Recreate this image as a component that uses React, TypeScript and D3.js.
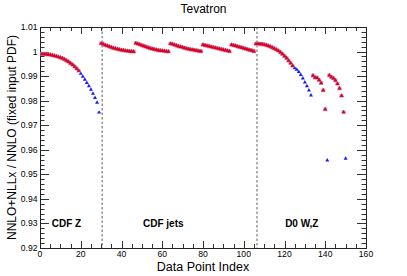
import React, { useEffect, useRef } from 'react';
import * as d3 from 'd3';

// ratio per data point
const cdfZ = [
  0.9990, 0.9990, 0.9989, 0.9988, 0.9987, 0.9985, 0.9983, 0.9981, 0.9978, 0.9975,
  0.9972, 0.9968, 0.9963, 0.9958, 0.9952, 0.9946, 0.9939, 0.9931, 0.9922, 0.9910,
  0.9898, 0.9886, 0.9873, 0.9859, 0.9845, 0.9829, 0.9812, 0.9792, 0.9752,
];
const cdfJets = [
  // bin 1
  1.0033, 1.0030, 1.0026, 1.0023, 1.0020, 1.0017, 1.0014, 1.0012, 1.0010, 1.0008,
  1.0006, 1.0005, 1.0003, 1.0002, 1.0001, 1.0000, 1.0000,
  // bin 2
  1.0034, 1.0031, 1.0028, 1.0025, 1.0022, 1.0019, 1.0016, 1.0013, 1.0011, 1.0009,
  1.0007, 1.0005, 1.0004, 1.0003, 1.0002, 1.0001, 1.0000,
  // bin 3
  1.0032, 1.0030, 1.0027, 1.0024, 1.0021, 1.0019, 1.0017, 1.0014, 1.0012, 1.0010,
  1.0008, 1.0007, 1.0005, 1.0004, 1.0002, 1.0001,
  // bin 4
  1.0027, 1.0025, 1.0023, 1.0021, 1.0019, 1.0017, 1.0015, 1.0013, 1.0011, 1.0009,
  1.0007, 1.0005, 1.0003, 1.0001,
  // bin 5
  1.0027, 1.0025, 1.0023, 1.0020, 1.0018, 1.0016, 1.0013, 1.0011, 1.0008, 1.0006,
  1.0004, 1.0001,
];
const d0WZ = [
  1.0031, 1.0031, 1.0030, 1.0030, 1.0028, 1.0026, 1.0023, 1.0020, 1.0016, 1.0012,
  1.0008, 1.0003, 0.9997, 0.9990, 0.9982, 0.9973, 0.9963, 0.9953, 0.9942, 0.9933,
  0.9927, 0.9917, 0.9905, 0.9891, 0.9875, 0.9859, 0.9842, 0.9822,
  0.9902, 0.9894, 0.9893, 0.9884, 0.9872, 0.9842, 0.9765, 0.9557,
  0.9903, 0.9896, 0.9891, 0.9883, 0.9869, 0.9850, 0.9820, 0.9753, 0.9564,
];
// first index of each data set
const startIndex = [1, 30, 106];
const datasetNames = ['CDF Z', 'CDF jets', 'D0 W,Z'];
// points that fail the cut (blue only)
const cutPoints = [
  20, 21, 22, 23, 24, 25, 26, 27, 28, 29,
  125, 126, 127, 128, 129, 130, 131, 132, 133, 141, 150,
];
const separators = [30.5, 106.5];
const labelX = [13, 60.5, 128.5];

const xTicks = [0, 20, 40, 60, 80, 100, 120, 140, 160];
const yTicks = [0.92, 0.93, 0.94, 0.95, 0.96, 0.97, 0.98, 0.99, 1, 1.01];

const Chart = () => {
  const ref = useRef<SVGSVGElement>(null);

  useEffect(() => {
    const svg = d3.select(ref.current);
    svg.selectAll('*').remove();
    const width = 407;
    const height = 276;
    const margin = { top: 27, right: 41, bottom: 28, left: 40 };
    const iw = width - margin.left - margin.right;
    const ih = height - margin.top - margin.bottom;
    const font = 'Liberation Sans, Arial, Helvetica, sans-serif';

    const points: { i: number; v: number; pass: boolean }[] = [];
    [cdfZ, cdfJets, d0WZ].forEach((vals, k) => {
      vals.forEach((v, j) => {
        const i = startIndex[k] + j;
        points.push({ i, v, pass: !cutPoints.includes(i) });
      });
    });

    const x = d3.scaleLinear().domain([0, 160]).range([0, iw]);
    const y = d3.scaleLinear().domain([0.92, 1.01]).range([ih, 0]);

    const g = svg.append('g').attr('transform', `translate(${margin.left},${margin.top})`);

    // ticks (ROOT style, inward on all four sides)
    const tickG = g.append('g').attr('stroke', '#333').attr('stroke-width', 1);
    d3.range(0, 160.01, 5).forEach(t => {
      const len = t % 20 === 0 ? 7 : 4;
      const px = Math.round(x(t)) + 0.5;
      tickG.append('line').attr('x1', px).attr('x2', px).attr('y1', ih).attr('y2', ih - len);
      tickG.append('line').attr('x1', px).attr('x2', px).attr('y1', 0).attr('y2', len);
    });
    d3.range(0, 46).forEach(k => {
      const t = 0.92 + k * 0.002;
      const len = k % 5 === 0 ? 9 : 4.5;
      const py = Math.round(y(t)) + 0.5;
      tickG.append('line').attr('x1', 0).attr('x2', len).attr('y1', py).attr('y2', py);
      tickG.append('line').attr('x1', iw).attr('x2', iw - len).attr('y1', py).attr('y2', py);
    });

    // frame
    g.append('rect')
      .attr('x', 0.5).attr('y', 0.5)
      .attr('width', iw).attr('height', ih)
      .attr('fill', 'none').attr('stroke', '#222').attr('stroke-width', 1);

    // tick labels
    g.selectAll('.xl').data(xTicks).join('text')
      .attr('x', d => x(d)).attr('y', ih + 9)
      .attr('text-anchor', 'middle')
      .attr('font-family', font).attr('font-size', 8.6)
      .text(d => d);
    g.selectAll('.yl').data(yTicks).join('text')
      .attr('x', -2.5).attr('y', d => y(d) + 3)
      .attr('text-anchor', 'end')
      .attr('font-family', font).attr('font-size', 8.6)
      .text(d => (d === 1 ? '1' : d3.format('.2f')(d)));

    // data set separators
    g.selectAll('.sep').data(separators).join('line')
      .attr('x1', d => x(d)).attr('x2', d => x(d))
      .attr('y1', 0).attr('y2', ih)
      .attr('stroke', '#333').attr('stroke-width', 0.8)
      .attr('stroke-dasharray', '2.5,2');

    // data set labels
    g.selectAll('.dsl').data(datasetNames).join('text')
      .attr('x', (d, k) => x(labelX[k])).attr('y', ih - 21)
      .attr('text-anchor', 'middle')
      .attr('font-family', font).attr('font-size', 10).attr('font-weight', 'bold')
      .text(d => d);

    const tri = d3.symbol().type(d3.symbolTriangle).size(7);

    // all points (blue)
    g.selectAll('.blue').data(points).join('path')
      .attr('d', tri)
      .attr('transform', d => `translate(${x(d.i)},${y(d.v)})`)
      .attr('fill', '#1a1aff');

    // points passing the cut (red)
    const passing = points.filter(d => d.pass);
    g.selectAll('.sq').data(passing).join('rect')
      .attr('x', d => x(d.i) - 2).attr('y', d => y(d.v) - 2)
      .attr('width', 4).attr('height', 4)
      .attr('fill', '#c98bb0').attr('opacity', 0.7);
    g.selectAll('.red').data(passing).join('path')
      .attr('d', tri)
      .attr('transform', d => `translate(${x(d.i)},${y(d.v)})`)
      .attr('fill', '#e0001b');

    // title and axis titles
    svg.append('text')
      .attr('x', width / 2).attr('y', 13)
      .attr('text-anchor', 'middle')
      .attr('font-family', font).attr('font-size', 12)
      .text('Tevatron');
    svg.append('text')
      .attr('x', margin.left + iw / 2).attr('y', 271)
      .attr('text-anchor', 'middle')
      .attr('font-family', font).attr('font-size', 12.5)
      .text('Data Point Index');
    svg.append('text')
      .attr('transform', `translate(16,${margin.top + ih / 2}) rotate(-90)`)
      .attr('text-anchor', 'middle')
      .attr('font-family', font).attr('font-size', 12)
      .text('NNLO+NLLx / NNLO (fixed input PDF)');
  }, []);

  return <svg ref={ref} width={407} height={276} style={{ display: 'block' }}></svg>;
};

export default function App() {
  document.body.style.margin = '0';
  return <Chart />;
}
